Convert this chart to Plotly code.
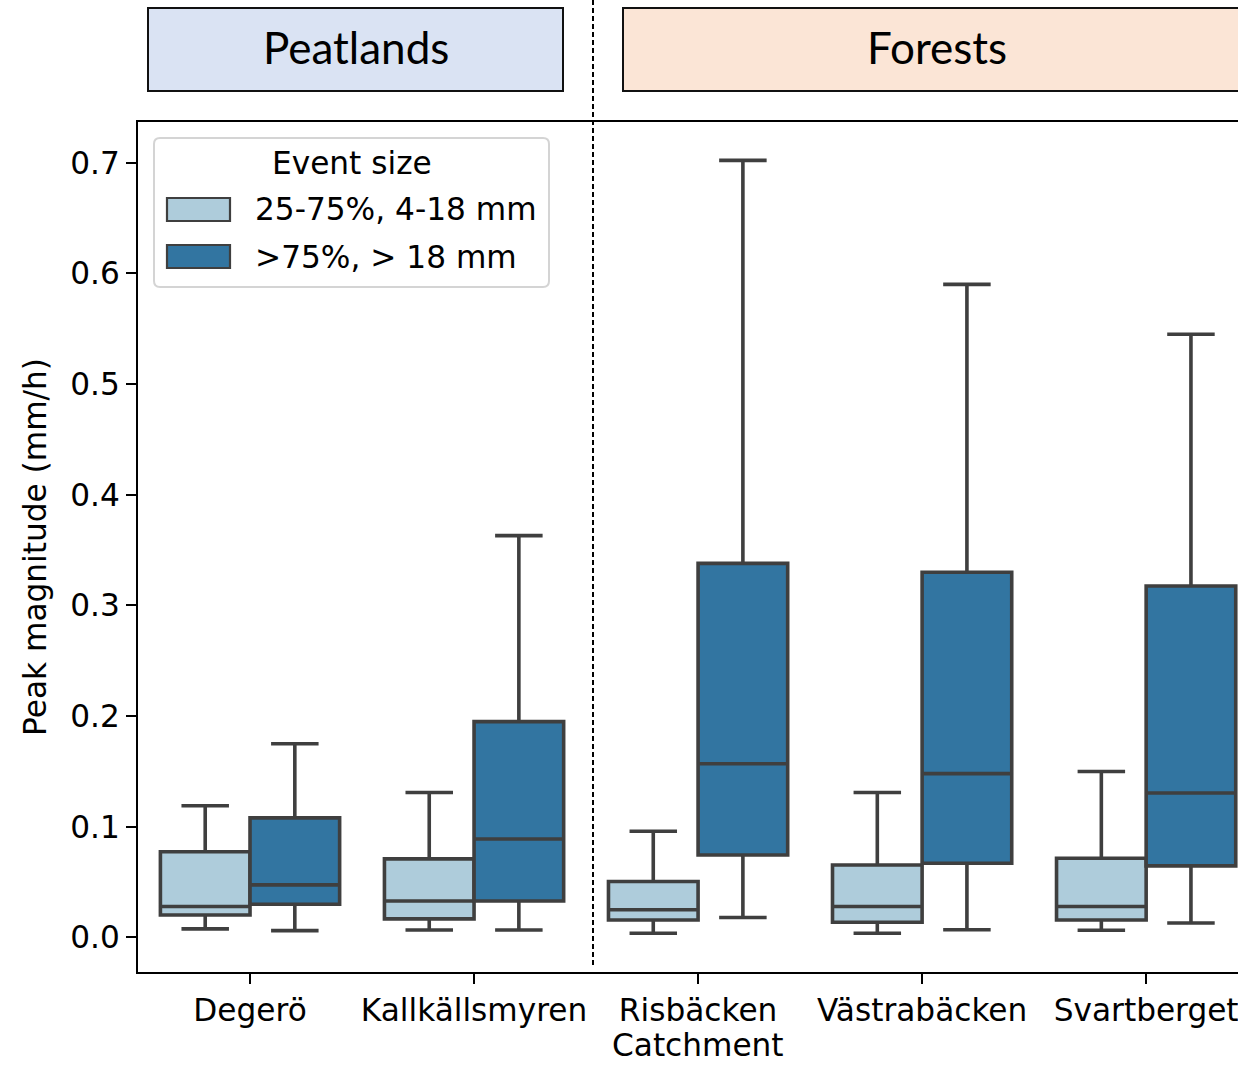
import plotly.graph_objects as go

# Catchments and five-number summaries (mm/h) per event-size class
catchments = ["Degerö", "Kallkällsmyren", "Risbäcken", "Västrabäcken", "Svartberget"]

mid_name = "25-75%, 4-18 mm"
mid_low = [0.0078, 0.0068, 0.0038, 0.0038, 0.0065]
mid_q1 = [0.0203, 0.0168, 0.0158, 0.0137, 0.0158]
mid_med = [0.0280, 0.0330, 0.0250, 0.0280, 0.0280]
mid_q3 = [0.0775, 0.0710, 0.0505, 0.0655, 0.0716]
mid_high = [0.1190, 0.1310, 0.0960, 0.1310, 0.1500]

big_name = ">75%, > 18 mm"
big_low = [0.0062, 0.0068, 0.0180, 0.0070, 0.0130]
big_q1 = [0.0300, 0.0330, 0.0745, 0.0670, 0.0647]
big_med = [0.0475, 0.0890, 0.1570, 0.1480, 0.1305]
big_q3 = [0.1080, 0.1950, 0.3380, 0.3300, 0.3175]
big_high = [0.1750, 0.3630, 0.7020, 0.5900, 0.5450]

y_ticks = [0.0, 0.1, 0.2, 0.3, 0.4, 0.5, 0.6, 0.7]

LIGHT = "#aeccdb"
DARK = "#3275a1"
EDGE = "#3f3f3f"
FONT = "DejaVu Sans"
FS = 31.2

W, H = 1238, 1065
L, R, T, B = 138, 0, 122, 93


def px(xp):
    return (xp - L) / (W - L - R)


def py(yp):
    return (H - B - yp) / (H - T - B)


fig = go.Figure()
for name, lo, q1, med, q3, hi, col in [
    (mid_name, mid_low, mid_q1, mid_med, mid_q3, mid_high, LIGHT),
    (big_name, big_low, big_q1, big_med, big_q3, big_high, DARK),
]:
    fig.add_trace(go.Box(
        x=catchments, q1=q1, median=med, q3=q3,
        lowerfence=lo, upperfence=hi, name=name,
        fillcolor=col, line=dict(color=EDGE, width=3.6),
        whiskerwidth=0.53, boxpoints=False, showlegend=False,
    ))

shapes = []
annotations = []

# Group header boxes above the axes
for x0, x1, fill, label in [(148, 563, "#dae3f3", "Peatlands"),
                             (623, 1260, "#fbe5d6", "Forests")]:
    shapes.append(dict(type="rect", xref="paper", yref="paper",
                       x0=px(x0), x1=px(x1), y0=py(91), y1=py(8),
                       fillcolor=fill, line=dict(color="#111111", width=2),
                       layer="above"))
    annotations.append(dict(xref="paper", yref="paper",
                            x=px((x0 + min(x1, 1251)) / 2), y=py(47),
                            text=label, showarrow=False,
                            font=dict(family="Lato", size=44, color="black"),
                            xanchor="center", yanchor="middle"))

# Dashed separator between peatland and forest catchments
shapes.append(dict(type="line", xref="paper", yref="paper",
                   x0=px(593), x1=px(593), y0=py(0), y1=py(968),
                   line=dict(color="black", width=2, dash="5px,3px"),
                   layer="above"))

# Legend frame with rounded corners
lx0, lx1, ly0, ly1, r = px(154), px(549), py(287), py(138), 6
rx, ry = r / (W - L - R), r / (H - T - B)
path = (f"M {lx0 + rx},{ly0} L {lx1 - rx},{ly0} Q {lx1},{ly0} {lx1},{ly0 + ry} "
        f"L {lx1},{ly1 - ry} Q {lx1},{ly1} {lx1 - rx},{ly1} "
        f"L {lx0 + rx},{ly1} Q {lx0},{ly1} {lx0},{ly1 - ry} "
        f"L {lx0},{ly0 + ry} Q {lx0},{ly0} {lx0 + rx},{ly0} Z")
shapes.append(dict(type="path", xref="paper", yref="paper", path=path,
                   fillcolor="rgba(255,255,255,0.8)",
                   line=dict(color="#d4d4d4", width=2), layer="above"))
annotations.append(dict(xref="paper", yref="paper", x=px(352), y=py(163),
                        text="Event size", showarrow=False,
                        font=dict(family=FONT, size=FS, color="black"),
                        xanchor="center", yanchor="middle"))
for (ytop, ybot, col, label) in [(198, 221, LIGHT, mid_name),
                                 (245, 268, DARK, big_name)]:
    shapes.append(dict(type="rect", xref="paper", yref="paper",
                       x0=px(167), x1=px(230), y0=py(ybot), y1=py(ytop),
                       fillcolor=col, line=dict(color=EDGE, width=2.2),
                       layer="above"))
    annotations.append(dict(xref="paper", yref="paper", x=px(253),
                            y=py((ytop + ybot) / 2), text=label,
                            showarrow=False,
                            font=dict(family=FONT, size=FS, color="black"),
                            xanchor="left", yanchor="middle"))

# Axis title for the catchment axis, centred on the category span
annotations.append(dict(xref="paper", yref="paper", x=px(698), y=py(1065),
                        text="Catchment", showarrow=False,
                        font=dict(family=FONT, size=FS, color="black"),
                        xanchor="center", yanchor="bottom"))

fig.update_layout(
    width=W, height=H,
    margin=dict(l=L, r=R, t=T, b=B, pad=0),
    paper_bgcolor="white", plot_bgcolor="white",
    boxmode="group", boxgap=0.2, boxgroupgap=0.0,
    font=dict(family=FONT, size=FS, color="black"),
    shapes=shapes, annotations=annotations,
    xaxis=dict(
        type="category", categoryorder="array", categoryarray=catchments,
        range=[-0.5, 4.41], showgrid=False, zeroline=False,
        showline=True, linecolor="black", linewidth=2, mirror=True,
        ticks="outside", ticklen=10, tickwidth=2, tickcolor="black",
        tickfont=dict(family=FONT, size=FS, color="black"),
    ),
    yaxis=dict(
        range=[-0.0312, 0.7367], showgrid=False, zeroline=False,
        showline=True, linecolor="black", linewidth=2, mirror=False,
        ticks="outside", ticklen=10, tickwidth=2, tickcolor="black",
        tickvals=y_ticks, ticktext=[f"{v:.1f}" for v in y_ticks],
        tickfont=dict(family=FONT, size=FS, color="black"),
        title=dict(text="Peak magnitude (mm/h)", standoff=14,
                   font=dict(family=FONT, size=FS, color="black")),
    ),
)

fig.write_html("out.html")
